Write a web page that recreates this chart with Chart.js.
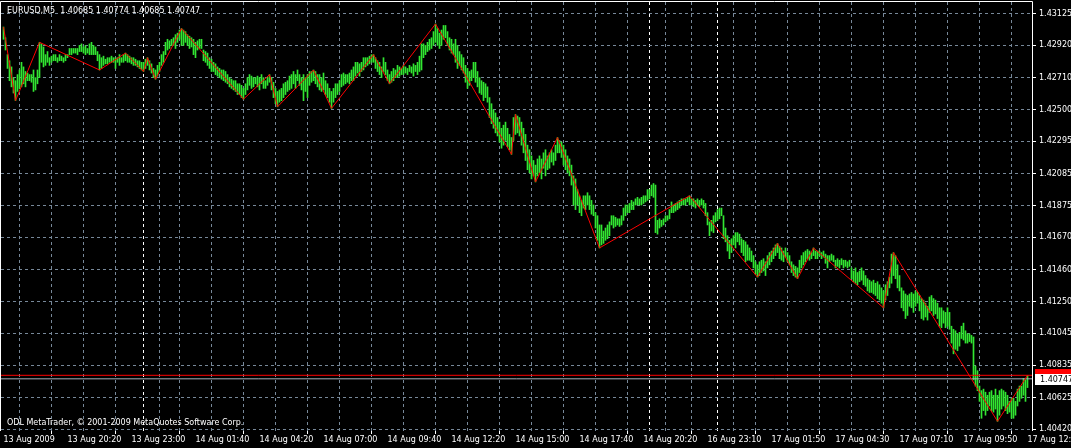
<!DOCTYPE html>
<html><head><meta charset="utf-8">
<script src="https://cdn.jsdelivr.net/npm/chart.js@4.4.1/dist/chart.umd.min.js"></script>
<style>html,body{margin:0;padding:0;background:#000;overflow:hidden}#wrap{width:1071px;height:448px;position:relative}</style>
</head><body><div id="wrap"><canvas id="c"></canvas></div>
<script>
const symbol = "EURUSD,M5";
const lastOHLC = ["1.40685", "1.40774", "1.40685", "1.40747"];
const copyright = "ODL MetaTrader, © 2001-2009 MetaQuotes Software Corp.";
const xLabels = ["13 Aug 2009","13 Aug 20:20","13 Aug 23:00","14 Aug 01:40","14 Aug 04:20","14 Aug 07:00","14 Aug 09:40","14 Aug 12:20","14 Aug 15:00","14 Aug 17:40","14 Aug 20:20","16 Aug 23:10","17 Aug 01:50","17 Aug 04:30","17 Aug 07:10","17 Aug 09:50","17 Aug 12:30"];
const labelEvery = 32;
const gridEvery = 16;
const yTicks = [1.43125,1.42920,1.42710,1.42500,1.42295,1.42085,1.41875,1.41670,1.41460,1.41250,1.41045,1.40835,1.40625,1.40420];
const daySeparators = [76, 326, 362];
const bidPrice = 1.40747;
const askPrice = 1.40770;

const highs = [
1.4304,1.4297,1.4286,1.4282,1.4278,1.4271,1.4269,1.4273,1.4276,1.4281,
1.4278,1.4275,1.4274,1.4273,1.4273,1.4276,1.4271,1.4276,1.4294,1.4293,
1.4291,1.4286,1.4288,1.4284,1.4285,1.4286,1.4286,1.4284,1.4286,1.4285,
1.4284,1.4286,1.4286,1.4290,1.4290,1.4290,1.4290,1.4290,1.4292,1.4293,
1.4291,1.4292,1.4290,1.4293,1.4294,1.4292,1.4291,1.4288,1.4286,1.4284,
1.4285,1.4283,1.4284,1.4284,1.4285,1.4284,1.4284,1.4284,1.4286,1.4284,
1.4286,1.4287,1.4286,1.4285,1.4284,1.4284,1.4283,1.4282,1.4282,1.4281,
1.4281,1.4283,1.4284,1.4282,1.4280,1.4277,1.4276,1.4279,1.4281,1.4286,
1.4288,1.4294,1.4296,1.4295,1.4296,1.4297,1.4299,1.4300,1.4302,1.4303,
1.4302,1.4301,1.4299,1.4298,1.4297,1.4296,1.4294,1.4295,1.4296,1.4296,
1.4289,1.4288,1.4287,1.4284,1.4283,1.4281,1.4280,1.4278,1.4277,1.4276,
1.4276,1.4275,1.4273,1.4271,1.4270,1.4269,1.4269,1.4267,1.4267,1.4266,
1.4264,1.4267,1.4271,1.4273,1.4272,1.4271,1.4271,1.4272,1.4271,1.4273,
1.4271,1.4269,1.4271,1.4273,1.4271,1.4268,1.4264,1.4262,1.4263,1.4264,
1.4267,1.4268,1.4269,1.4272,1.4273,1.4275,1.4273,1.4276,1.4273,1.4271,
1.4273,1.4271,1.4273,1.4275,1.4275,1.4276,1.4275,1.4273,1.4273,1.4271,
1.4274,1.4269,1.4267,1.4264,1.4262,1.4264,1.4267,1.4267,1.4269,1.4273,
1.4274,1.4273,1.4273,1.4274,1.4276,1.4278,1.4281,1.4281,1.4280,1.4281,
1.4284,1.4284,1.4284,1.4285,1.4286,1.4286,1.4284,1.4282,1.4281,1.4278,
1.4284,1.4281,1.4276,1.4273,1.4275,1.4277,1.4276,1.4279,1.4278,1.4277,
1.4279,1.4278,1.4277,1.4279,1.4278,1.4280,1.4279,1.4281,1.4285,1.4293,
1.4293,1.4292,1.4294,1.4296,1.4297,1.4301,1.4306,1.4303,1.4300,1.4302,
1.4305,1.4305,1.4301,1.4297,1.4296,1.4293,1.4296,1.4292,1.4288,1.4286,
1.4284,1.4279,1.4277,1.4275,1.4276,1.4281,1.4281,1.4275,1.4271,1.4269,
1.4268,1.4267,1.4265,1.4258,1.4254,1.4250,1.4248,1.4245,1.4242,1.4238,
1.4240,1.4242,1.4238,1.4234,1.4232,1.4245,1.4247,1.4246,1.4245,1.4242,
1.4238,1.4234,1.4227,1.4224,1.4220,1.4217,1.4214,1.4218,1.4220,1.4218,
1.4222,1.4224,1.4220,1.4222,1.4224,1.4222,1.4227,1.4232,1.4230,1.4229,
1.4227,1.4224,1.4220,1.4218,1.4214,1.4207,1.4205,1.4198,1.4194,1.4191,
1.4194,1.4194,1.4196,1.4194,1.4191,1.4188,1.4183,1.4181,1.4175,1.4175,
1.4171,1.4173,1.4175,1.4177,1.4181,1.4181,1.4180,1.4179,1.4179,1.4181,
1.4186,1.4188,1.4188,1.4189,1.4191,1.4190,1.4192,1.4193,1.4192,1.4193,
1.4194,1.4194,1.4198,1.4198,1.4201,1.4202,1.4201,1.4178,1.4179,1.4178,
1.4179,1.4181,1.4181,1.4185,1.4190,1.4188,1.4189,1.4190,1.4191,1.4192,
1.4192,1.4192,1.4193,1.4194,1.4192,1.4192,1.4191,1.4192,1.4191,1.4192,
1.4191,1.4189,1.4183,1.4177,1.4178,1.4181,1.4183,1.4185,1.4186,1.4186,
1.4181,1.4173,1.4168,1.4165,1.4166,1.4168,1.4170,1.4170,1.4169,1.4166,
1.4165,1.4164,1.4162,1.4160,1.4158,1.4155,1.4151,1.4149,1.4151,1.4152,
1.4153,1.4151,1.4155,1.4157,1.4158,1.4160,1.4162,1.4163,1.4161,1.4160,
1.4158,1.4160,1.4157,1.4155,1.4151,1.4149,1.4148,1.4147,1.4152,1.4155,
1.4157,1.4158,1.4159,1.4158,1.4157,1.4160,1.4158,1.4158,1.4158,1.4157,
1.4158,1.4156,1.4155,1.4155,1.4156,1.4155,1.4152,1.4153,1.4152,1.4153,
1.4152,1.4152,1.4151,1.4152,1.4147,1.4145,1.4147,1.4144,1.4145,1.4147,
1.4145,1.4142,1.4140,1.4139,1.4138,1.4139,1.4137,1.4138,1.4136,1.4134,
1.4132,1.4136,1.4138,1.4141,1.4156,1.4157,1.4155,1.4149,1.4142,1.4134,
1.4132,1.4130,1.4129,1.4130,1.4131,1.4130,1.4132,1.4131,1.4129,1.4127,
1.4126,1.4124,1.4122,1.4128,1.4129,1.4127,1.4126,1.4124,1.4121,1.4121,
1.4119,1.4118,1.4121,1.4118,1.4109,1.4107,1.4106,1.4104,1.4105,1.4109,
1.4111,1.4106,1.4104,1.4104,1.4103,1.4102,1.4083,1.4080,1.4070,1.4067,
1.4068,1.4066,1.4064,1.4066,1.4067,1.4064,1.4068,1.4064,1.4067,1.4068,
1.4067,1.4066,1.4064,1.4060,1.4062,1.4062,1.4060,1.4068,1.4070,1.4070,
1.4075,1.4074,1.4077];

const lows = [
1.4296,1.4289,1.4277,1.4269,1.4265,1.4261,1.4256,1.4262,1.4264,1.4265,
1.4267,1.4265,1.4269,1.4269,1.4268,1.4262,1.4263,1.4267,1.4271,1.4281,
1.4278,1.4279,1.4281,1.4279,1.4281,1.4282,1.4282,1.4281,1.4282,1.4282,
1.4281,1.4282,1.4284,1.4286,1.4286,1.4287,1.4287,1.4286,1.4288,1.4288,
1.4287,1.4286,1.4287,1.4286,1.4286,1.4286,1.4286,1.4282,1.4276,1.4277,
1.4279,1.4280,1.4280,1.4281,1.4281,1.4281,1.4277,1.4281,1.4279,1.4281,
1.4281,1.4282,1.4281,1.4281,1.4280,1.4279,1.4279,1.4278,1.4277,1.4276,
1.4275,1.4277,1.4279,1.4276,1.4274,1.4271,1.4270,1.4272,1.4275,1.4279,
1.4281,1.4286,1.4289,1.4290,1.4292,1.4292,1.4290,1.4294,1.4296,1.4292,
1.4292,1.4294,1.4292,1.4290,1.4291,1.4286,1.4284,1.4289,1.4290,1.4290,
1.4282,1.4281,1.4279,1.4277,1.4275,1.4275,1.4273,1.4272,1.4271,1.4270,
1.4269,1.4268,1.4267,1.4265,1.4264,1.4263,1.4262,1.4260,1.4260,1.4258,
1.4257,1.4260,1.4263,1.4266,1.4264,1.4265,1.4267,1.4265,1.4263,1.4267,
1.4264,1.4264,1.4266,1.4268,1.4263,1.4258,1.4254,1.4252,1.4255,1.4256,
1.4258,1.4260,1.4262,1.4263,1.4264,1.4267,1.4264,1.4269,1.4266,1.4263,
1.4256,1.4262,1.4258,1.4266,1.4268,1.4269,1.4267,1.4265,1.4263,1.4262,
1.4263,1.4260,1.4258,1.4255,1.4251,1.4255,1.4258,1.4260,1.4262,1.4265,
1.4266,1.4267,1.4268,1.4267,1.4269,1.4269,1.4272,1.4274,1.4272,1.4275,
1.4276,1.4278,1.4279,1.4280,1.4281,1.4281,1.4277,1.4275,1.4273,1.4271,
1.4275,1.4273,1.4269,1.4267,1.4268,1.4269,1.4271,1.4271,1.4272,1.4273,
1.4273,1.4274,1.4273,1.4275,1.4274,1.4272,1.4275,1.4273,1.4275,1.4276,
1.4284,1.4286,1.4288,1.4289,1.4290,1.4292,1.4294,1.4292,1.4290,1.4292,
1.4296,1.4297,1.4292,1.4289,1.4287,1.4286,1.4281,1.4277,1.4279,1.4276,
1.4274,1.4268,1.4264,1.4266,1.4269,1.4271,1.4268,1.4265,1.4261,1.4260,
1.4256,1.4258,1.4255,1.4245,1.4241,1.4238,1.4235,1.4233,1.4229,1.4225,
1.4227,1.4230,1.4226,1.4224,1.4221,1.4230,1.4234,1.4235,1.4233,1.4227,
1.4222,1.4217,1.4211,1.4209,1.4205,1.4207,1.4203,1.4207,1.4209,1.4205,
1.4212,1.4207,1.4211,1.4212,1.4216,1.4214,1.4217,1.4222,1.4222,1.4219,
1.4214,1.4211,1.4209,1.4207,1.4201,1.4188,1.4185,1.4188,1.4183,1.4181,
1.4186,1.4185,1.4188,1.4185,1.4182,1.4181,1.4173,1.4165,1.4160,1.4162,
1.4163,1.4165,1.4166,1.4168,1.4175,1.4173,1.4174,1.4175,1.4174,1.4175,
1.4178,1.4181,1.4183,1.4183,1.4185,1.4185,1.4188,1.4188,1.4188,1.4188,
1.4189,1.4190,1.4191,1.4192,1.4194,1.4193,1.4170,1.4169,1.4173,1.4174,
1.4175,1.4177,1.4178,1.4179,1.4183,1.4183,1.4184,1.4185,1.4186,1.4188,
1.4188,1.4188,1.4190,1.4188,1.4188,1.4187,1.4186,1.4188,1.4187,1.4188,
1.4186,1.4181,1.4175,1.4168,1.4171,1.4170,1.4177,1.4178,1.4179,1.4181,
1.4166,1.4164,1.4158,1.4153,1.4157,1.4162,1.4160,1.4164,1.4162,1.4157,
1.4155,1.4151,1.4152,1.4152,1.4151,1.4147,1.4143,1.4141,1.4142,1.4144,
1.4145,1.4142,1.4147,1.4149,1.4151,1.4153,1.4155,1.4157,1.4153,1.4152,
1.4151,1.4154,1.4151,1.4149,1.4144,1.4142,1.4141,1.4140,1.4144,1.4147,
1.4149,1.4151,1.4153,1.4152,1.4153,1.4155,1.4153,1.4153,1.4155,1.4153,
1.4154,1.4150,1.4147,1.4151,1.4152,1.4151,1.4147,1.4148,1.4147,1.4149,
1.4147,1.4148,1.4147,1.4148,1.4140,1.4138,1.4137,1.4136,1.4138,1.4139,
1.4136,1.4135,1.4132,1.4131,1.4131,1.4130,1.4129,1.4127,1.4126,1.4124,
1.4121,1.4126,1.4129,1.4134,1.4137,1.4142,1.4140,1.4134,1.4132,1.4121,
1.4119,1.4114,1.4116,1.4122,1.4121,1.4118,1.4122,1.4124,1.4119,1.4114,
1.4113,1.4115,1.4113,1.4118,1.4119,1.4116,1.4117,1.4114,1.4109,1.4108,
1.4111,1.4108,1.4109,1.4107,1.4098,1.4091,1.4094,1.4093,1.4096,1.4101,
1.4100,1.4098,1.4098,1.4099,1.4098,1.4074,1.4070,1.4067,1.4060,1.4049,
1.4054,1.4051,1.4054,1.4057,1.4054,1.4053,1.4055,1.4047,1.4051,1.4055,
1.4057,1.4054,1.4052,1.4053,1.4049,1.4049,1.4051,1.4057,1.4060,1.4062,
1.4064,1.4060,1.4069];

const zzIndex = [0,6,18,48,61,70,72,76,89,120,133,137,155,164,185,193,216,254,256,266,277,298,343,377,387,397,405,440,445,497,512];
const zzPrice = [1.4304,1.4256,1.4294,1.4276,1.4287,1.4275,1.4284,1.4270,1.4303,1.4257,1.4273,1.4252,1.4276,1.4251,1.4286,1.4267,1.4306,1.4221,1.4247,1.4203,1.4232,1.4160,1.4194,1.4141,1.4163,1.4140,1.4160,1.4121,1.4157,1.4047,1.4077];

// ---- view / style ----
const X_MIN = -1.25, X_MAX = 514.25;
const Y_MIN = 1.40407, Y_MAX = 1.43203;
const GRID = '#778899';
const BAR = '#32e632';
const FONT = "'DejaVu Sans', sans-serif";

Chart.defaults.font.family = FONT;
Chart.defaults.font.size = 8;
Chart.defaults.color = '#ffffff';

const labelAt = {};
xLabels.forEach((t, k) => { labelAt[k * labelEvery] = t; });
const xTickValues = [];
for (let v = 0; v <= highs.length - 1; v += gridEvery) xTickValues.push(v);
daySeparators.forEach(v => xTickValues.push(v));
xTickValues.sort((a, b) => a - b);

const bars = highs.map((h, i) => ({x: i, y: [lows[i], h]}));
const zigzag = zzIndex.map((x, k) => ({x, y: zzPrice[k]}));

const overlay = {
  id: 'mt4overlay',
  afterDraw(chart) {
    const {ctx, chartArea: a, scales: {y}} = chart;
    ctx.save();
    ctx.strokeStyle = '#ffffff';
    ctx.lineWidth = 1;
    ctx.setLineDash([]);
    ctx.beginPath();
    ctx.moveTo(0.5, a.bottom);
    ctx.lineTo(0.5, 1.5);
    ctx.lineTo(a.right + 0.5, 1.5);
    ctx.lineTo(a.right + 0.5, a.bottom);
    ctx.stroke();
    ctx.font = "8px " + FONT;
    ctx.fillStyle = '#ffffff';
    ctx.textAlign = 'left';
    ctx.textBaseline = 'alphabetic';
    ctx.fillText(symbol + '  ' + lastOHLC.join(' '), 7, 13);
    ctx.fillText(copyright, 7, 425);
    const ay = Math.round(y.getPixelForValue(askPrice));
    const by = Math.round(y.getPixelForValue(bidPrice));
    ctx.fillStyle = '#ff0000';
    ctx.fillRect(a.right + 3, ay - 6, 40, 11);
    ctx.fillStyle = '#ffffff';
    ctx.fillRect(a.right + 3, by - 5, 40, 11);
    ctx.fillStyle = '#000000';
    ctx.textBaseline = 'middle';
    ctx.fillText(bidPrice.toFixed(5), a.right + 8, by + 0.5);
    ctx.restore();
  }
};

new Chart(document.getElementById('c'), {
  type: 'bar',
  data: {
    datasets: [
      {type: 'line', data: zigzag, borderColor: '#ff0000', borderWidth: 1, pointRadius: 0, tension: 0, order: 0},
      {type: 'line', data: [{x: X_MIN, y: askPrice}, {x: X_MAX, y: askPrice}], borderColor: '#ff0000', borderWidth: 1, pointRadius: 0, order: 1},
      {type: 'line', data: [{x: X_MIN, y: bidPrice}, {x: X_MAX, y: bidPrice}], borderColor: '#a9b3bd', borderWidth: 1, pointRadius: 0, order: 1},
      {type: 'bar', data: bars, backgroundColor: BAR, borderWidth: 0, barThickness: 1, grouped: false, order: 3}
    ]
  },
  plugins: [overlay],
  options: {
    responsive: true,
    maintainAspectRatio: false,
    animation: false,
    devicePixelRatio: 1,
    layout: {padding: {left: 1, top: 2, right: 0, bottom: 0}},
    plugins: {legend: {display: false}, tooltip: {enabled: false}, title: {display: false}},
    scales: {
      x: {
        type: 'linear', position: 'bottom', min: X_MIN, max: X_MAX, offset: false,
        afterBuildTicks: s => { s.ticks = xTickValues.map(v => ({value: v})); },
        afterFit: s => { s.height = 17; s.paddingLeft = 0; s.paddingRight = 0; },
        grid: {
          color: c => (c.tick && daySeparators.includes(c.tick.value)) ? '#ffffff' : GRID,
          tickColor: c => (c.tick && c.tick.value % labelEvery === 0) ? '#ffffff' : 'rgba(0,0,0,0)',
          tickLength: 3, lineWidth: 1, drawOnChartArea: true, drawTicks: true
        },
        border: {display: false, dash: [3, 3]},
        ticks: {autoSkip: false, maxRotation: 0, minRotation: 0, align: 'start', padding: 1, color: '#ffffff',
          callback: v => (labelAt[v] !== undefined ? labelAt[v] : '')}
      },
      y: {
        type: 'linear', position: 'right', min: Y_MIN, max: Y_MAX,
        afterBuildTicks: s => { s.ticks = yTicks.map(v => ({value: v})); },
        afterFit: s => { s.width = 39; s.paddingTop = 0; s.paddingBottom = 0; },
        grid: {color: GRID, tickColor: '#ffffff', tickLength: 4, lineWidth: 1, drawTicks: true},
        border: {display: false, dash: [3, 3]},
        ticks: {autoSkip: false, padding: 3, color: '#ffffff', callback: v => Number(v).toFixed(5)}
      }
    }
  }
});
</script>
</body></html>
